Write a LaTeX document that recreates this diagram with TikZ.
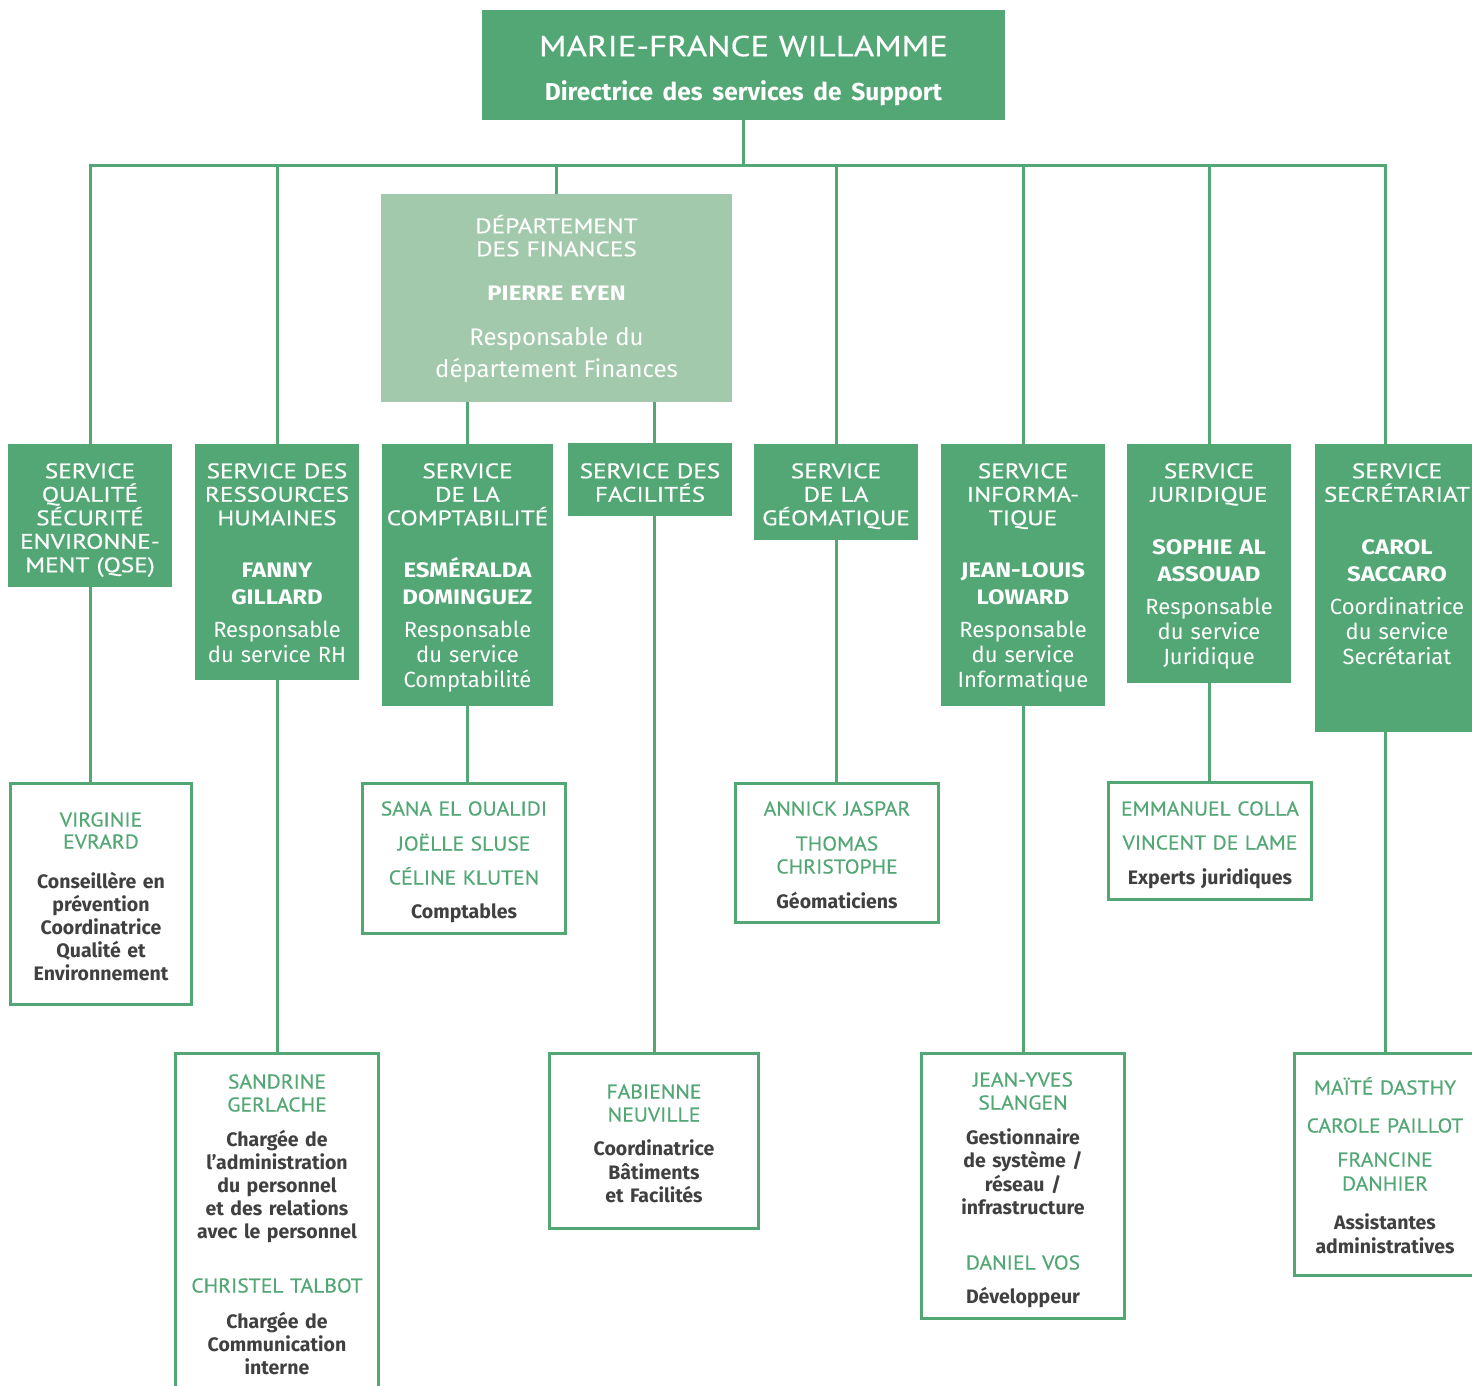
\documentclass[tikz,border=0pt]{standalone}
\usepackage{fontspec}
\setmainfont{Fira Sans}
\newfontfamily\capsfont[FakeStretch=1.2, FakeBold=0.5]{PT Sans}
\newfontfamily\petitcaps[FakeStretch=1.08, FakeBold=0.3]{PT Sans}
\newfontfamily\nomfont[FakeStretch=1.14]{Fira Sans}
\usepackage{xcolor}
\definecolor{vert}{HTML}{52A775}
\definecolor{vertclair}{HTML}{A2C9AB}
\definecolor{gris}{HTML}{404040}
\setlength{\parskip}{0pt}
\setlength{\lineskiplimit}{-100pt}
\newcommand{\nomf}{\nomfont\bfseries\fontsize{21}{23.5}\selectfont}
\newcommand{\fctf}{\normalfont\fontsize{22}{23.5}\selectfont}
\newcommand{\nomv}{\petitcaps\mdseries\color{vert}\fontsize{20}{23}\selectfont}
\tikzset{
	service/.style={fill=vert, text=white, inner sep=0pt, anchor=north, align=center,
			text width=#1, font=\capsfont\fontsize{21}{23.5}\selectfont},
	equipe/.style={draw=vert, line width=3pt, fill=white, text=gris, inner sep=0pt, anchor=north,
			align=center, text width=#1, font=\bfseries\fontsize{19.5}{23}\selectfont},
	lien/.style={draw=vert, line width=3pt}
}

\begin{document}
\begin{tikzpicture}[x=1pt, y=-1pt]
		\useasboundingbox (0,0) rectangle (1472,1385);
		\clip (0,0) rectangle (1472,1385);
		\node (dir) [service=523, text height=46, text depth=64, font=\capsfont\fontsize{29}{44}\selectfont]
			at (743.5,10) {MARIE-FRANCE WILLAMME\\{\normalfont\bfseries\fontsize{24.5}{44}\selectfont Directrice des services de Support}};
		\node (fin) [service=351, fill=vertclair, text height=39, text depth=169, font=\capsfont\fontsize{21}{23}\selectfont]
			at (556.5,194) {DÉPARTEMENT\\DES FINANCES\\[21pt]{\nomf PIERRE EYEN}\\[22pt]{\normalfont\fontsize{24}{23}\selectfont Responsable du\\[7pt]département Finances}};

		\node (qse) [service=164, text height=34, text depth=109] at (90,444)
			{SERVICE\\QUALITÉ\\SÉCURITÉ\\ENVIRONNE-\\MENT (QSE)};
		\node (rh) [service=164, text height=34, text depth=202] at (277,444)
			{SERVICE DES\\RESSOURCES\\HUMAINES\\[28.5pt]{\nomf FANNY\\[3.5pt]GILLARD}\\[9.5pt]{\fctf Responsable\\[1.5pt]du service RH}};
		\node (compta) [service=171, text height=34, text depth=228] at (467.5,444)
			{SERVICE\\DE LA\\COMPTABILITÉ\\[28.5pt]{\nomf ESMÉRALDA\\[3.5pt]DOMINGUEZ}\\[9.5pt]{\fctf Responsable\\[1.5pt]du service\\[1.5pt]Comptabilité}};
		\node (fac) [service=164, text height=35, text depth=38] at (650,443)
			{SERVICE DES\\FACILITÉS};
		\node (geo) [service=164, text height=34, text depth=62] at (836,444)
			{SERVICE\\DE LA\\GÉOMATIQUE};
		\node (info) [service=164, text height=34, text depth=228] at (1023,444)
			{SERVICE\\INFORMA-\\TIQUE\\[28.5pt]{\nomf JEAN-LOUIS\\[3.5pt]LOWARD}\\[9.5pt]{\fctf Responsable\\[1.5pt]du service\\[1.5pt]Informatique}};
		\node (jur) [service=164, text height=34, text depth=205] at (1209,444)
			{SERVICE\\JURIDIQUE\\[29.5pt]{\nomf SOPHIE AL\\[3.5pt]ASSOUAD}\\[9.5pt]{\fctf Responsable\\[1.5pt]du service\\[1.5pt]Juridique}};
		\node (secr) [service=164, text height=34, text depth=254] at (1397,444)
			{SERVICE\\SECRÉTARIAT\\[29.5pt]{\nomf CAROL\\[3.5pt]SACCARO}\\[9.5pt]{\fctf Coordinatrice\\[1.5pt]du service\\[1.5pt]Secrétariat}};

		\node (virg) [equipe=181, text height=43.5, text depth=177.5] at (101,781.5)
			{{\nomv VIRGINIE\\[-1pt]EVRARD}\\[17pt]Conseillère en\\prévention\\Coordinatrice\\Qualité et\\Environnement};
		\node (rhs) [equipe=203, text height=35.5, text depth=330] at (277,1051.5)
			{{\nomv SANDRINE\\GERLACHE}\\[12pt]Chargée de\\l’administration\\du personnel\\et des relations\\avec le personnel\\[31pt]{\nomv CHRISTEL TALBOT}\\[13pt]Chargée de\\Communication\\interne};
		\node (comps) [equipe=203, text height=32.5, text depth=117.5] at (464,781.5)
			{{\nomv SANA EL OUALIDI\\[12pt]JOËLLE SLUSE\\[11pt]CÉLINE KLUTEN}\\[11pt]Comptables};
		\node (fab) [equipe=209, text height=45.5, text depth=129.5] at (654,1051.5)
			{{\nomv FABIENNE\\NEUVILLE}\\[11pt]Coordinatrice\\[1pt]Bâtiments\\et Facilités};
		\node (geos) [equipe=203, text height=32.5, text depth=106.5] at (837,781.5)
			{{\nomv ANNICK JASPAR\\[12pt]THOMAS\\CHRISTOPHE}\\[12pt]Géomaticiens};
		\node (infos) [equipe=203, text height=33.5, text depth=231.5] at (1023,1051.5)
			{{\nomv JEAN-YVES\\SLANGEN}\\[12pt]Gestionnaire\\de système /\\[1pt]réseau /\\infrastructure\\[32pt]{\nomv DANIEL VOS}\\[11pt]Développeur};
		\node (jurs) [equipe=203, text height=33.5, text depth=83.5] at (1210,780.5)
			{{\nomv EMMANUEL COLLA\\[11pt]VINCENT DE LAME}\\[12pt]Experts juridiques};
		\node (asst) [equipe=181, text height=41.5, text depth=180.5] at (1385,1051.5)
			{{\nomv MAÏTÉ DASTHY\\[15pt]CAROLE PAILLOT\\[11pt]FRANCINE\\[1pt]DANHIER}\\[16pt]Assistantes\\[1pt]administratives};

		\coordinate (bus) at (743.5,165);
		\draw [lien] (dir.south) -- (bus);
		\draw [lien] (qse.north) |- (bus) -| (secr.north-|asst.north);
		\foreach \s in {rh,fin,geo,info,jur}
			\draw [lien] (\s.north) -- (\s.north|-bus);
		\draw [lien] (fin.south-|compta.north) -- (compta.north);
		\draw [lien] (fin.south-|fab.north) -- (fac.north-|fab.north);
		\draw [lien] (fac.south-|fab.north) -- (fab.north);
		\draw [lien] (qse.south) -- (qse.south|-virg.north);
		\draw [lien] (rh.south) -- (rhs.north);
		\draw [lien] (compta.south) -- (compta.south|-comps.north);
		\draw [lien] (geo.south) -- (geo.south|-geos.north);
		\draw [lien] (info.south) -- (infos.north);
		\draw [lien] (jur.south) -- (jur.south|-jurs.north);
		\draw [lien] (secr.south-|asst.north) -- (asst.north);
	\end{tikzpicture}
\end{document}
